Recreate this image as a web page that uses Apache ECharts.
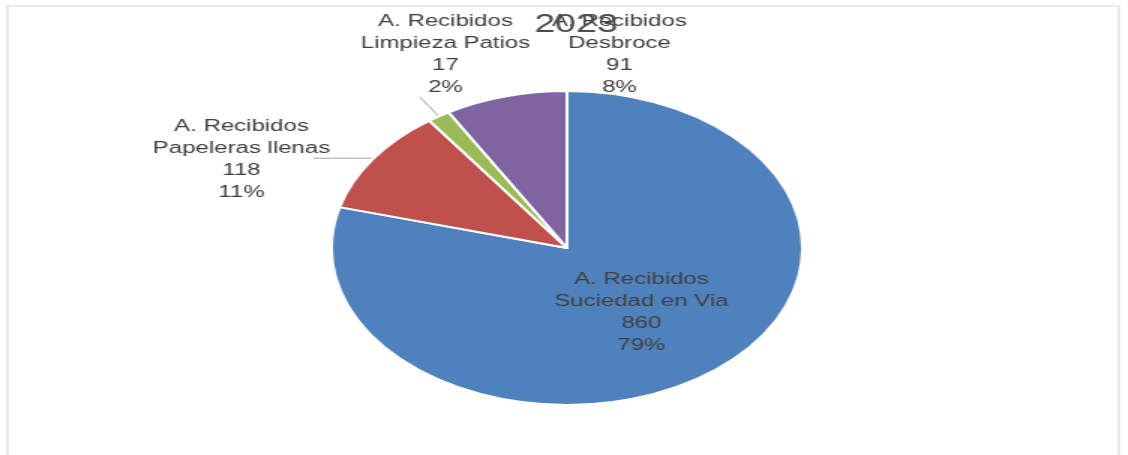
<!DOCTYPE html>
<html>
<head>
<meta charset="utf-8">
<script src="https://cdn.jsdelivr.net/npm/echarts@6/dist/echarts.min.js"></script>
<style>
  html, body { margin: 0; padding: 0; background: #ffffff; overflow: hidden; }
  #wrap { width: 1128px; height: 455px; overflow: hidden; position: relative; }
  /* the chart is drawn on a narrower canvas and stretched horizontally */
  #chart { width: 752px; height: 455px; transform: scaleX(1.5); transform-origin: 0 0; }
</style>
</head>
<body>
<div id="wrap"><div id="chart"></div></div>
<script>
// Chart data
const chartTitle = '2023';
const categories = [
  'A. Recibidos\nSuciedad en Via',
  'A. Recibidos\nPapeleras llenas',
  'A. Recibidos\nLimpieza Patios',
  'A. Recibidos\nDesbroce'
];
const values = [860, 118, 17, 91];
const sliceColors = ['#4F81BD', '#C0504D', '#9BBB59', '#8064A2'];

// Where each outside label block sits (unstretched canvas px) and its anchor
const labelAnchors = {
  1: { x: 161, y: 160, verticalAlign: 'middle' },
  2: { x: 297, y: 99, verticalAlign: 'bottom' },
  3: { x: 413, y: 99, verticalAlign: 'bottom' }
};

const FONT = "'Liberation Sans', Arial, sans-serif";

const pieData = categories.map((name, i) => {
  const item = { name: name, value: values[i], itemStyle: { color: sliceColors[i] } };
  if (i === 0) {
    item.label = { position: 'inside' };
    item.labelLine = { show: false };
  } else if (i === 1) {
    item.labelLine = { show: true, length: 1, length2: 39 };
  } else if (i === 2) {
    item.labelLine = { show: true, length: 23, length2: 0 };
  } else {
    item.labelLine = { show: false };
  }
  return item;
});

const chart = echarts.init(document.getElementById('chart'), null, { renderer: 'canvas' });

chart.setOption({
  backgroundColor: '#ffffff',
  animation: false,
  title: {
    text: chartTitle,
    left: 379,
    textAlign: 'center',
    top: 8,
    textStyle: { fontFamily: FONT, fontSize: 25, fontWeight: 'normal', color: '#4d4d4d' }
  },
  graphic: [{
    type: 'rect',
    silent: true,
    z: -1,
    shape: { x: 5, y: 6, width: 741, height: 470 },
    style: { fill: null, stroke: '#e4e4e4', lineWidth: 1.5 }
  }],
  series: [{
    type: 'pie',
    center: [378, 248],
    radius: 157,
    startAngle: 90,
    clockwise: true,
    avoidLabelOverlap: false,
    data: pieData,
    itemStyle: { borderColor: '#ffffff', borderWidth: 2 },
    label: {
      show: true,
      position: 'outside',
      fontFamily: FONT,
      fontSize: 16,
      lineHeight: 22,
      color: '#404040',
      align: 'center',
      formatter: p => p.name + '\n' + p.value + '\n' + Math.round(p.percent) + '%'
    },
    labelLine: {
      lineStyle: { color: '#a6a6a6', width: 1 }
    },
    labelLayout: function (params) {
      const a = labelAnchors[params.dataIndex];
      if (!a) return {};
      const out = { x: a.x, y: a.y, align: 'center', verticalAlign: a.verticalAlign };
      if (params.labelLinePoints) out.labelLinePoints = params.labelLinePoints;
      return out;
    },
    emphasis: { disabled: true }
  }]
});
</script>
</body>
</html>
